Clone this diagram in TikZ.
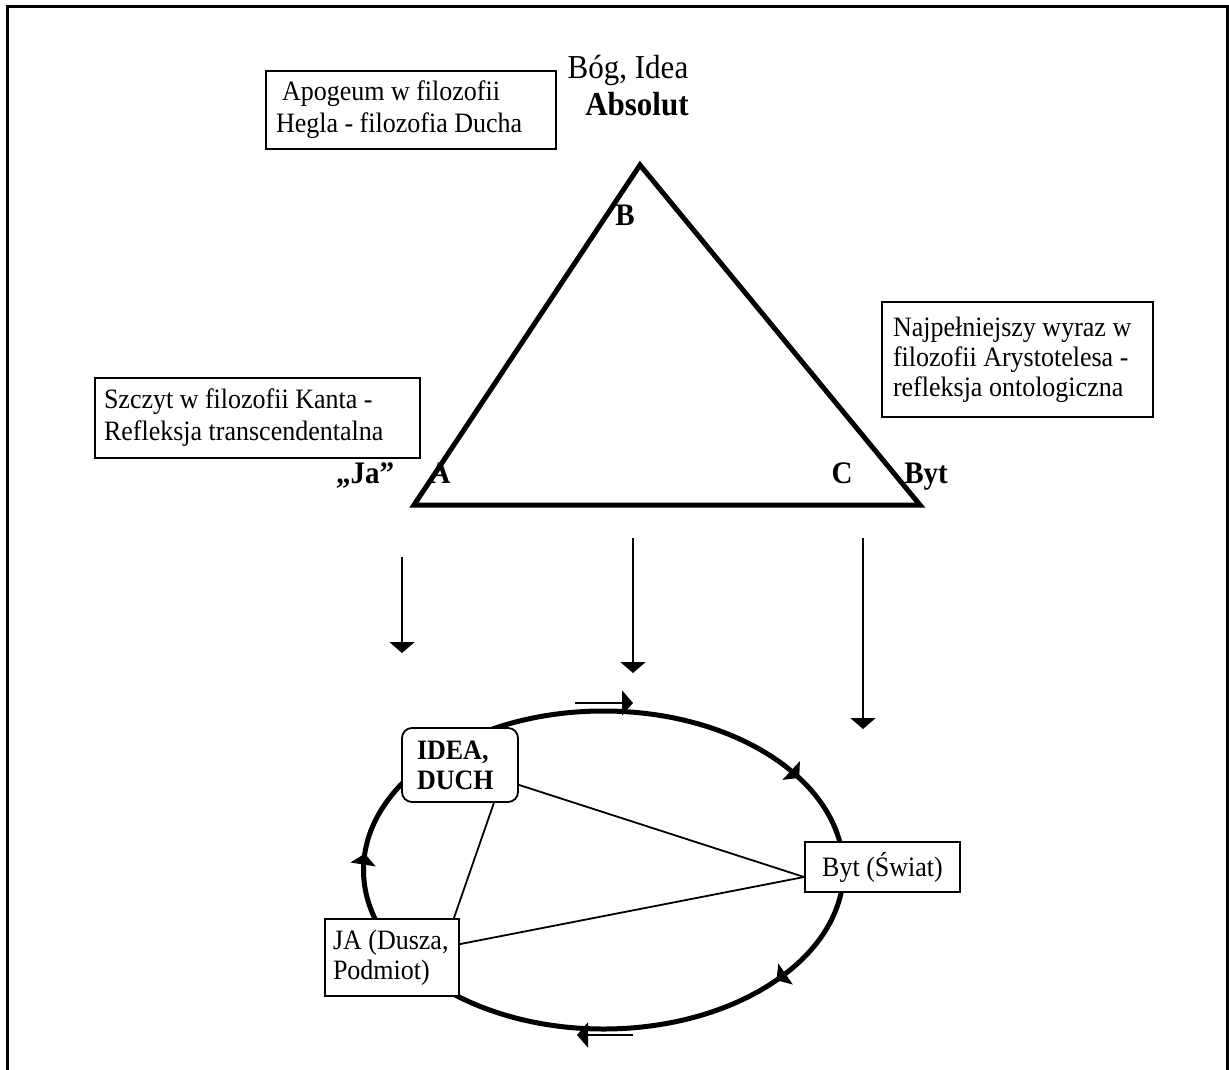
\documentclass[tikz,border=0pt]{standalone}
\usepackage{fontspec}
\usepackage{graphicx}
\setmainfont{Liberation Serif}
\usetikzlibrary{arrows.meta,decorations.markings,calc}
\newcommand{\vstr}[1]{\scalebox{1}[1.08]{#1}}
\newcommand{\pbx}[2]{\scalebox{1}[1.08]{\parbox{#1}{\raggedright #2}}}
\begin{document}
\begin{tikzpicture}[x=1pt,y=-1pt,
  frameline/.style={line width=3pt},
  txtbox/.style={draw,line width=1.8pt,fill=white,inner ysep=0pt,font=\fontsize{26}{29.6}\selectfont},
  smallbox/.style={draw,line width=1.8pt,fill=white,inner ysep=0pt,font=\fontsize{26}{27.8}\selectfont},
  lbl/.style={font=\bfseries\fontsize{29}{34}\selectfont,inner sep=0pt,anchor=base},
  conn/.style={line width=1.8pt},
  tri/.tip={Triangle[length=11pt,width=25pt]},
  downarrow/.style={line width=2pt,-tri},
  cyclearrow/.style={line width=5pt,postaction=decorate,decoration={markings,
     mark=at position 0.106 with {\arrow{tri}},
     mark=at position 0.513 with {\arrow{tri}},
     mark=at position 0.917 with {\arrow{tri}}}}]
\clip (0,0) rectangle (1229,1070);
\fill[white] (0,0) rectangle (1229,1070);
\draw[frameline] (7,1080) -- (7,7) -- (1227.5,7) -- (1227.5,1080);

% triangle
\coordinate (tB) at (640,165);
\coordinate (tA) at (414,505);
\coordinate (tC) at (920,505);
\draw[line width=5pt,line join=miter] (tA) -- (tB) -- (tC) -- cycle;

\node[lbl] (lB) at (625,225) {\vstr{B}};
\node[lbl] (lA) at (440,483) {\vstr{A}};
\node[lbl] (lC) at (842,483) {\vstr{C}};
\node[lbl] (lByt) at (926,483) {\vstr{Byt}};
\node[lbl] (lJa) at (365,483) {\vstr{„Ja”}};

\node[inner sep=0pt,anchor=base,font=\fontsize{31}{36}\selectfont] (bog) at (628,79) {\vstr{Bóg, Idea}};
\node[inner sep=0pt,anchor=base,font=\bfseries\fontsize{31}{36}\selectfont] (abs) at (637,116) {\vstr{Absolut}};

% text boxes
\node[txtbox,inner xsep=10pt,minimum height=78pt] (apo) at (411,110)
  {\pbx{270pt}{\hspace*{6pt}Apogeum w filozofii\\Hegla - filozofia Ducha}};
\node[txtbox,inner xsep=9pt,minimum height=80pt] (kant) at (257.5,418)
  {\pbx{307pt}{Szczyt w filozofii Kanta -\\Refleksja transcendentalna}};
\node[txtbox,inner xsep=11pt,minimum height=115pt,font=\fontsize{26}{27.8}\selectfont] (ary) at (1017.5,359.5)
  {\pbx{249pt}{Najpełniejszy wyraz w\\filozofii Arystotelesa -\\refleksja ontologiczna}};

% down arrows
\coordinate (d1s) at (402,557); \coordinate (d1e) at (402,653);
\coordinate (d2s) at (633,538); \coordinate (d2e) at (633,673);
\coordinate (d3s) at (863,538); \coordinate (d3e) at (863,729);
\draw[downarrow] (d1s) -- (d1e);
\draw[downarrow] (d2s) -- (d2e);
\draw[downarrow] (d3s) -- (d3e);

% cycle
\coordinate (cc) at (603.5,870);
\draw[cyclearrow] (cc) ellipse [x radius=240, y radius=159];
\coordinate (tps) at (575,703); \coordinate (tpe) at (633,703);
\draw[downarrow] (tps) -- (tpe);
\coordinate (bts) at (633,1035); \coordinate (bte) at (577,1035);
\draw[downarrow] (bts) -- (bte);

\node[smallbox,rounded corners=10pt,font=\bfseries\fontsize{26}{27.8}\selectfont,inner xsep=15pt,minimum height=74pt] (idea) at (460,765) {\pbx{86pt}{IDEA,\\DUCH}};
\node[smallbox,inner xsep=0pt,minimum width=155pt,minimum height=50pt] (byt) at (882.5,867) {\vstr{Byt (Świat)}};
\node[smallbox,inner xsep=8pt,minimum height=77pt] (ja) at (392,957.5) {\pbx{118pt}{JA (Dusza,\\Podmiot)}};

\draw[conn] ($(idea.south east)+(0,-18)$) -- ($(byt.west)+(0,10)$);
\draw[conn] ($(ja.north east)+(0,26)$) -- ($(byt.west)+(0,10)$);
\draw[conn] ($(idea.south east)+(-25,0)$) -- ($(ja.north east)+(-6,0)$);
\end{tikzpicture}
\end{document}
